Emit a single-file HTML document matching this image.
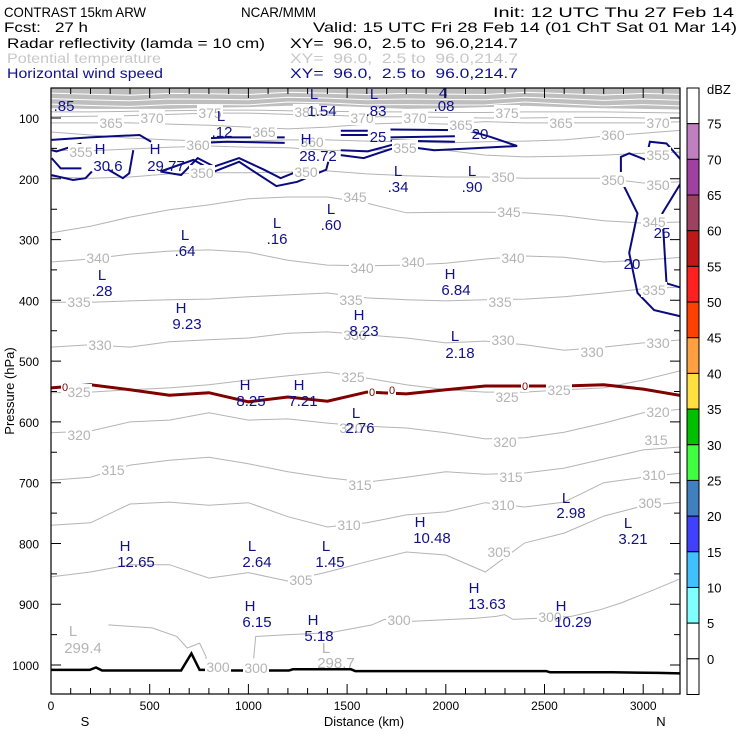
<!DOCTYPE html>
<html><head><meta charset="utf-8"><style>
html,body{margin:0;padding:0;background:#fff;}
svg{display:block;font-family:"Liberation Sans",sans-serif;}
</style></head><body>
<svg id="chart" width="740" height="740" viewBox="0 0 740 740">
<g font-size="14">
<text x="4" y="17" textLength="142" lengthAdjust="spacingAndGlyphs">CONTRAST 15km ARW</text>
<text x="241" y="17" textLength="75" lengthAdjust="spacingAndGlyphs">NCAR/MMM</text>
<text x="493" y="17" textLength="241" lengthAdjust="spacingAndGlyphs">Init: 12 UTC Thu 27 Feb 14</text>
<text x="4" y="32" textLength="84" lengthAdjust="spacingAndGlyphs" xml:space="preserve">Fcst:   27 h</text>
<text x="313" y="32" textLength="424" lengthAdjust="spacingAndGlyphs">Valid: 15 UTC Fri 28 Feb 14 (01 ChT Sat 01 Mar 14)</text>
<text x="7" y="48" textLength="258" lengthAdjust="spacingAndGlyphs">Radar reflectivity (lamda = 10 cm)</text>
<text x="290" y="48" textLength="228" lengthAdjust="spacingAndGlyphs" xml:space="preserve">XY=  96.0,  2.5 to  96.0,214.7</text>
<text x="7" y="63" fill="#c8c8c8" textLength="154" lengthAdjust="spacingAndGlyphs">Potential temperature</text>
<text x="290" y="63" fill="#c8c8c8" textLength="228" lengthAdjust="spacingAndGlyphs" xml:space="preserve">XY=  96.0,  2.5 to  96.0,214.7</text>
<text x="7" y="78" fill="#101090" textLength="156" lengthAdjust="spacingAndGlyphs">Horizontal wind speed</text>
<text x="290" y="78" fill="#101090" textLength="228" lengthAdjust="spacingAndGlyphs" xml:space="preserve">XY=  96.0,  2.5 to  96.0,214.7</text>
</g>
<defs><clipPath id="plotclip"><rect x="51" y="88" width="629" height="606"/></clipPath></defs>
<g id="plot" clip-path="url(#plotclip)"></g>
<g id="labels"></g>
<g id="axes"></g>
<g id="cbar"></g>
</svg>
<script>
// ---- data ----
const gridKm = [0,200,400,600,800,1000,1200,1400,1600,1800,2000,2200,2400,2600,2800,3000,3200];
const thetaLevels = [300,305,310,315,320,325,330,335,340,345,350,355,360,365,370,375];
const theta305 = [855,847,835,835,857,848,862,847,830,814,819,847,799,783,755,738,732];
const theta310 = [770,766,735,732,737,733,756,773,766,753,748,733,740,732,700,691,684];
const theta315 = [696,691,671,663,658,669,682,692,699,691,682,686,684,676,661,646,641];
const theta320 = [618,615,600,597,585,597,595,602,607,610,618,628,626,617,602,585,579];
const theta325 = [552,551,547,544,539,531,524,518,528,539,547,551,551,547,544,531,515];
const theta330 = [477,473,477,468,465,462,454,452,457,462,470,467,473,482,477,470,465];
const theta335 = [403,403,401,399,398,394,391,388,396,399,401,399,398,394,388,381,378];
const theta340 = [337,332,324,319,317,321,334,342,343,342,339,332,327,329,337,334,329];
const theta345 = [289,278,263,251,243,233,230,230,240,256,255,255,256,261,269,273,271];
const theta350 = [197,199,197,192,190,190,189,187,192,195,197,197,199,199,199,207,205];
const theta355 = [153,154,151,148,146,148,149,153,154,149,153,161,164,163,161,158,156];
const theta360 = [123,128,133,136,138,138,136,136,138,139,141,139,138,136,130,125,120];
const theta365 = [108,108,108,110,112,115,118,115,110,108,110,106,108,108,108,108,106];
const theta370 = [98,97,96,94,92,92,94,95,98,98,99,100,100,99,99,100,100];
const theta375 = [90,90,89,88,87,87,88,89,90,90,91,91,90,90,90,91,92];
const stratoBase = [84,85,85,85,83,82,80,80,82,85,84,82,80,82,84,85,86];
const theta300KmA = [291,512,638,690,753,785,785];
const theta300PA = [934,939,953,972,964,986,1005];
const theta300KmB = [1027,1037,1205,1415,1626,1689,1836,2151,2256,2298,2340,2466,2635,2782,2887,3055,3181];
const theta300PB = [989,953,950,947,934,925,928,923,920,917,925,923,920,909,898,876,859];
const freezingP = [544,539,547,556,552,567,559,566,551,554,547,541,541,541,539,546,557];
const terrainKm = [0,196,228,259,659,711,753,827,852,890,1205,1226,1520,1542,2508,2529,2845,3076,3200];
const terrainP = [1008,1008,1004,1009,1009,981,1008,1008,1000,1009,1009,1007,1007,1010,1010,1012,1012,1013,1014];
const windKm = [
 [3,196,449,507],[3,28,154],[3,49,154],[3,112,175,207],[291,364,396,417],
 [554,659,743,827,953,1079,1163,1310],[554,722,827,953,1142,1247,1394,1405],
 [701,890,1184],[701,890,1184],[1468,1605],[1468,1605],
 [1720,2109,2225,2361,2130,1941,1731,1605,1468],[1720,2046],[1720,2046],[1468,1584,1731],
 [3200,3118,3034,3013,2929,2887,2887,2971,2929,2971,3055,3200],[3200,3097,3118,3200]];
const windP = [
 [136,132,128,139],[153,155,142],[166,183,183],[194,202,199,188],[185,199,191,153],
 [188,194,166,180,166,185,199,180],[188,169,188,172,212,205,185,172],
 [135,132,132],[142,139,141],[121,121],[128,128],
 [119,120,131,146,150,153,144,155,153],[132,130],[137,139],[161,166,150],
 [172,142,139,169,158,164,202,257,322,388,416,427],[202,257,372,380]];
const cbarLabels = ["75","70","65","60","55","50","45","40","35","30","25","20","15","10","5","0"];
const cbarColors = ["#ffffff","#c080c0","#a040a0","#a04060","#c01818","#ff2020","#ff4000","#ffa040","#ffe040","#00c000","#40ff40","#4080c0","#4040ff","#40c0ff","#80ffff","#ffffff","#ffffff"];
const pTicks = [100,200,300,400,500,600,700,800,900,1000];
const kmTicks = [0,500,1000,1500,2000,2500,3000];

// ---- scales ----
const X0=51, X1=680, Y0=88, Y1=694;
const xS = km => X0 + km*0.1974;
const yS = p => 118 + (p-100)*0.6078;
const NS='http://www.w3.org/2000/svg';
function mk(tag, parent){const e=document.createElementNS(NS,tag);parent.appendChild(e);return e;}
function pathD(kms, ps){return kms.map((k,i)=>(i?'L':'M')+xS(k).toFixed(1)+','+yS(ps[i]).toFixed(1)).join('');}
const plot=document.getElementById('plot');

// stratosphere dense band
let band = mk('path',plot);
band.setAttribute('d', 'M'+X0+','+Y0+' '+pathD(gridKm,stratoBase).replace('M','L')+' L'+X1+','+Y0+'Z');
band.setAttribute('fill','#bebebe');


[0.35,0.6,0.85].forEach(f=>{
 const pl=mk('path',plot);
 pl.setAttribute('d',pathD(gridKm,stratoBase.map((v,i)=>48+(v-48)*f+((i%3)-1)*1.5)));
 pl.setAttribute('fill','none');pl.setAttribute('stroke','#fff');pl.setAttribute('stroke-width','1');
 
 
});

// theta contours
const thetaSeries=[null,theta305,theta310,theta315,theta320,theta325,theta330,theta335,theta340,theta345,theta350,theta355,theta360,theta365,theta370,theta375];
thetaSeries.forEach((s,i)=>{
 if(!s) return;
 const pl=mk('path',plot);
 pl.setAttribute('d',pathD(gridKm,s));
 pl.setAttribute('fill','none');pl.setAttribute('stroke','#b4b4b4');pl.setAttribute('stroke-width','1');
 
 
});
[[theta300KmA,theta300PA],[theta300KmB,theta300PB]].forEach(([k,p])=>{
 const pl=mk('path',plot);
 pl.setAttribute('d',pathD(k,p));
 pl.setAttribute('fill','none');pl.setAttribute('stroke','#b4b4b4');pl.setAttribute('stroke-width','1');
 
 
});

// wind contours
windKm.forEach((k,i)=>{
 const pl=mk('path',plot);
 pl.setAttribute('d',pathD(k,windP[i]));
 pl.setAttribute('fill','none');pl.setAttribute('stroke','#0a0a80');pl.setAttribute('stroke-width','2');
 
 
});

// freezing line
const fz=mk('path',plot);
fz.setAttribute('d',pathD(gridKm,freezingP));
fz.setAttribute('fill','none');fz.setAttribute('stroke','#800000');fz.setAttribute('stroke-width','3');



// terrain
const tr=mk('path',plot);
tr.setAttribute('d',pathD(terrainKm,terrainP));
tr.setAttribute('fill','none');tr.setAttribute('stroke','#000');tr.setAttribute('stroke-width','2.5');



// labels
const lab=document.getElementById('labels');
const grayLabels=[["365",111,123],["370",152,118],["375",210,113],["380",306,112],["370",362,118],["370",415,118],["365",461,125],["375",507,113],["365",561,123],["370",658,123],["365",264,132],["360",198,145],["360",312,142],["360",613,135],["355",81,152],["355",405,148],["355",658,155],["350",202,173],["350",306,172],["350",503,177],["350",613,180],["350",658,185],["345",355,197],["345",509,212],["345",654,222],["340",98,258],["340",362,268],["340",413,262],["340",513,258],["335",79,302],["335",351,300],["335",500,302],["335",654,290],["330",100,345],["330",355,335],["330",503,340],["330",592,352],["330",658,343],["325",79,392],["325",353,377],["325",507,397],["325",559,390],["320",79,435],["320",351,428],["320",505,442],["320",658,412],["315",113,470],["315",360,485],["315",511,477],["315",656,440],["310",349,525],["310",503,505],["310",654,475],["305",301,580],["305",499,552],["305",650,503],["300",399,620],["300",550,617],["300",218,667],["300",256,668]];
grayLabels.forEach(([t,x,y])=>{
 const r=mk('rect',lab);r.setAttribute('x',x-13);r.setAttribute('y',y-8);r.setAttribute('width',26);r.setAttribute('height',15);r.setAttribute('fill','#fff');
 
 
 const e=mk('text',lab);e.textContent=t;e.setAttribute('x',x);e.setAttribute('y',y+5);e.setAttribute('text-anchor','middle');e.setAttribute('font-size','14');e.setAttribute('fill','#b4b4b4');
 
 
});
const maroonLabels=[[65,387],[372,392],[392,390],[525,386]];
maroonLabels.forEach(([x,y])=>{
 const r=mk('rect',lab);r.setAttribute('x',x-4);r.setAttribute('y',y-6);r.setAttribute('width',8);r.setAttribute('height',12);r.setAttribute('fill','#fff');
 
 
 const e=mk('text',lab);e.textContent='0';e.setAttribute('x',x);e.setAttribute('y',y+4);e.setAttribute('text-anchor','middle');e.setAttribute('font-size','11');e.setAttribute('fill','#800000');
 
 
});
const blueLabels=[[".85",64,105],["L",221,115],[".12",222,131],["L",314,93],["1.54",322,110],["L",374,93],[".83",376,110],["4",443,92],[".08",444,105],["H",100,148],["30.6",108,165],["H",155,148],["29.77",166,165],["H",306,138],["28.72",318,155],["L",398,170],[".34",398,186],["L",472,170],[".90",472,186],["L",331,208],[".60",331,224],["L",277,222],[".16",277,238],["L",185,234],[".64",185,250],["L",102,274],[".28",102,290],["H",181,307],["9.23",187,323],["H",359,314],["8.23",364,330],["H",450,273],["6.84",456,289],["L",455,335],["2.18",460,352],["H",245,384],["8.25",251,400],["H",299,384],["7.21",303,400],["L",356,412],["2.76",360,427],["H",125,545],["12.65",136,561],["L",252,545],["2.64",257,561],["L",326,545],["1.45",330,561],["H",420,521],["10.48",432,537],["L",566,497],["2.98",571,512],["L",628,522],["3.21",633,538],["H",474,587],["13.63",487,603],["H",250,605],["6.15",257,621],["H",313,619],["5.18",319,635],["H",561,605],["10.29",573,621],["20",480,133],["25",378,136],["25",662,232],["20",632,263]];
blueLabels.forEach(([t,x,y])=>{
 const e=mk('text',lab);e.textContent=t;e.setAttribute('x',x);e.setAttribute('y',y+6);e.setAttribute('text-anchor','middle');e.setAttribute('font-size','15');e.setAttribute('fill','#10108a');
 
 
});
[["L",73,630],["299.4",83,647],["L",326,647],["298.7",336,662]].forEach(([t,x,y])=>{
 const e=mk('text',lab);e.textContent=t;e.setAttribute('x',x);e.setAttribute('y',y+6);e.setAttribute('text-anchor','middle');e.setAttribute('font-size','15');e.setAttribute('fill','#b4b4b4');
 
 
});

// axes
const ax=document.getElementById('axes');
const frame=mk('rect',ax);frame.setAttribute('x',X0);frame.setAttribute('y',Y0);frame.setAttribute('width',X1-X0);frame.setAttribute('height',Y1-Y0);
frame.setAttribute('fill','none');frame.setAttribute('stroke','#000');frame.setAttribute('stroke-width','1.2');


let td='';
for(let p=100;p<=1040;p+=50){const y=yS(p).toFixed(1);const L=(p%100===0)?10:6;td+=`M${X0},${y}h${L}M${X1},${y}h${-L}`;}
for(let k=0;k<=3180;k+=100){const x=xS(k).toFixed(1);const L=(k%500===0)?10:6;td+=`M${x},${Y1}v${-L}M${x},${Y0}v${L}`;}
const ticks=mk('path',ax);ticks.setAttribute('d',td);ticks.setAttribute('stroke','#000');ticks.setAttribute('stroke-width','1');


pTicks.forEach(p=>{const e=mk('text',ax);e.textContent=p;e.setAttribute('x',39);e.setAttribute('y',yS(p)+5);e.setAttribute('text-anchor','end');e.setAttribute('font-size','12');
 
 });
kmTicks.forEach(k=>{const e=mk('text',ax);e.textContent=k;e.setAttribute('x',xS(k));e.setAttribute('y',710);e.setAttribute('text-anchor','middle');e.setAttribute('font-size','12');
 
 });
[["S",85],["N",661]].forEach(([t,x])=>{const e=mk('text',ax);e.textContent=t;e.setAttribute('x',x);e.setAttribute('y',726);e.setAttribute('text-anchor','middle');e.setAttribute('font-size','13');
 
 });
const xt=mk('text',ax);xt.textContent='Distance (km)';xt.setAttribute('x',364);xt.setAttribute('y',726);xt.setAttribute('text-anchor','middle');xt.setAttribute('font-size','13');


const yt=mk('text',ax);yt.textContent='Pressure (hPa)';yt.setAttribute('transform','translate(14,391) rotate(-90)');yt.setAttribute('text-anchor','middle');yt.setAttribute('font-size','13');



// colorbar
const cb=document.getElementById('cbar');
const segH=(694.5-88)/cbarColors.length;
cbarColors.forEach((c,i)=>{const r=mk('rect',cb);r.setAttribute('x',687);r.setAttribute('y',88+i*segH);r.setAttribute('width',12);r.setAttribute('height',segH);r.setAttribute('fill',c);r.setAttribute('stroke','#000');r.setAttribute('stroke-width','1');
 
 });
cbarLabels.forEach((t,i)=>{const e=mk('text',cb);e.textContent=t;e.setAttribute('x',707);e.setAttribute('y',88+(i+1)*segH+5);e.setAttribute('font-size','13');
 
 });
const un=mk('text',cb);un.textContent='dBZ';un.setAttribute('x',707);un.setAttribute('y',94);un.setAttribute('font-size','13');


</script>
</body></html>
